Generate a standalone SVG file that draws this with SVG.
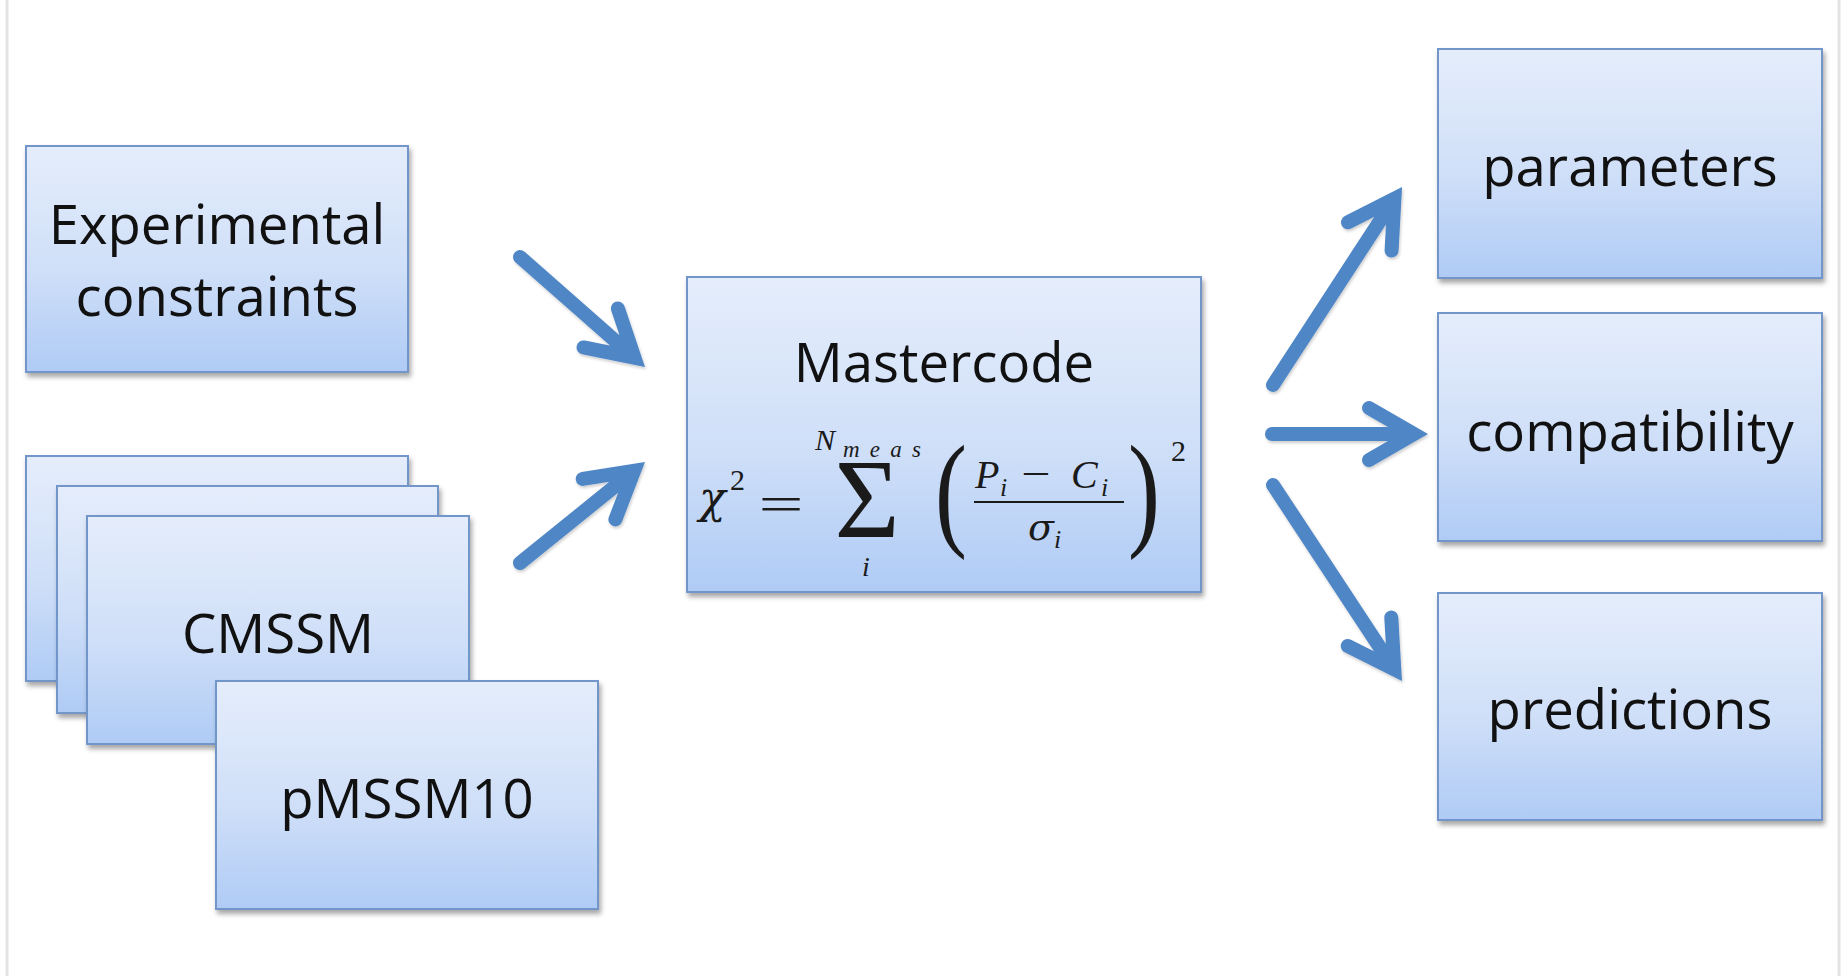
<svg xmlns="http://www.w3.org/2000/svg" width="1847" height="976" viewBox="0 0 1847 976">
<defs>
  <linearGradient id="boxGrad" x1="0" y1="0" x2="0" y2="1">
    <stop offset="0" stop-color="#e5edfb"/>
    <stop offset="0.55" stop-color="#cfdff8"/>
    <stop offset="1" stop-color="#afcbf5"/>
  </linearGradient>
  <filter id="shadow" x="-10%" y="-10%" width="125%" height="130%">
    <feDropShadow dx="2" dy="4" stdDeviation="2.5" flood-color="#000" flood-opacity="0.35"/>
  </filter>
  <filter id="ashadow" x="-20%" y="-20%" width="150%" height="150%">
    <feDropShadow dx="1" dy="2" stdDeviation="1.5" flood-color="#000" flood-opacity="0.2"/>
  </filter>
</defs>
<style>
  .box { fill: url(#boxGrad); stroke: #7296c9; stroke-width: 2; filter: url(#shadow); }
  .lbl { font-family: "Open Sans", "Liberation Sans", sans-serif; font-size: 54.5px; fill: #111; text-anchor: middle; }
  .m { font-family: "Liberation Serif", "DejaVu Serif", serif; fill: #1a1a1a; }
  .g { font-family: "DejaVu Serif", "Liberation Serif", serif; }
  .it { font-style: italic; }
  .arr { fill: none; stroke: #4f86c6; stroke-width: 14; stroke-linecap: round; stroke-linejoin: miter; stroke-miterlimit: 10; filter: url(#ashadow); }
  .frame { stroke: #e4e4e4; stroke-width: 3; }
</style>
<rect x="0" y="0" width="1847" height="976" fill="#ffffff"/>
<line class="frame" x1="7" y1="0" x2="7" y2="976"/>
<line class="frame" x1="1839" y1="0" x2="1839" y2="976"/>

<g id="experimental">
  <rect class="box" x="26" y="146" width="382" height="226"/>
  <text class="lbl" x="217" y="244">Experimental</text>
  <text class="lbl" x="217" y="316">constraints</text>
</g>

<g id="model-stack-1">
  <rect class="box" x="26" y="456" width="382" height="225"/>
</g>
<g id="model-stack-2">
  <rect class="box" x="57" y="486" width="381" height="227"/>
</g>
<g id="cmssm">
  <rect class="box" x="87" y="516" width="382" height="228"/>
  <text class="lbl" x="278" y="653">CMSSM</text>
</g>
<g id="pmssm10">
  <rect class="box" x="216" y="681" width="382" height="228"/>
  <text class="lbl" x="407" y="818">pMSSM10</text>
</g>

<g id="mastercode">
  <rect class="box" x="687" y="277" width="514" height="315"/>
  <text class="lbl" x="944" y="382">Mastercode</text>
  <g class="m">
    <text class="it g" x="699" y="513" font-size="44">χ</text>
    <text x="730" y="490" font-size="30">2</text>
    <text x="781" y="521" font-size="50" text-anchor="middle" transform="translate(781 0) scale(1.6 1) translate(-781 0)">=</text>
    <text x="867" y="537" font-size="112" text-anchor="middle">Σ</text>
    <text class="it" x="815" y="450" font-size="30">N</text>
    <text class="it" x="843" y="457" font-size="23" textLength="78" lengthAdjust="spacing">meas</text>
    <text class="it" x="866" y="576" font-size="28" text-anchor="middle">i</text>
    <text x="951" y="533" font-size="128" text-anchor="middle" transform="translate(951 0) scale(0.75 1) translate(-951 0)">(</text>
    <text class="it" x="975" y="488" font-size="40">P</text>
    <text class="it" x="1000" y="496" font-size="26">i</text>
    <text x="1036" y="487" font-size="40" text-anchor="middle" transform="translate(1036 0) scale(1.3 1) translate(-1036 0)">−</text>
    <text class="it" x="1071" y="488" font-size="40">C</text>
    <text class="it" x="1101" y="496" font-size="26">i</text>
    <line x1="974" y1="502" x2="1124" y2="502" stroke="#1a1a1a" stroke-width="2.2"/>
    <text class="it g" x="1028" y="540" font-size="38">σ</text>
    <text class="it" x="1054" y="548" font-size="26">i</text>
    <text x="1144" y="533" font-size="128" text-anchor="middle" transform="translate(1144 0) scale(0.75 1) translate(-1144 0)">)</text>
    <text x="1171" y="461" font-size="30">2</text>
  </g>
</g>

<g id="parameters">
  <rect class="box" x="1438" y="49" width="384" height="229"/>
  <text class="lbl" x="1630" y="186">parameters</text>
</g>
<g id="compatibility">
  <rect class="box" x="1438" y="313" width="384" height="228"/>
  <text class="lbl" x="1630" y="451">compatibility</text>
</g>
<g id="predictions">
  <rect class="box" x="1438" y="593" width="384" height="227"/>
  <text class="lbl" x="1630" y="729">predictions</text>
</g>

<g id="connectors">
  <path class="arr" d="M520,257 L634.5,357.7 M617.9,308.4 L634.5,357.7 L583.5,347.4"/>
  <path class="arr" d="M520,563 L634.1,470.8 M582.7,478.9 L634.1,470.8 L615.4,519.4"/>
  <path class="arr" d="M1273,385 L1394.4,198.7 M1348,222.3 L1394.4,198.7 L1391.6,250.6"/>
  <path class="arr" d="M1272,434 L1414,434 M1369,408 L1414,434 L1369,460"/>
  <path class="arr" d="M1273,485 L1394.3,669.3 M1391.3,617.4 L1394.3,669.3 L1347.8,646"/>
</g>
</svg>
